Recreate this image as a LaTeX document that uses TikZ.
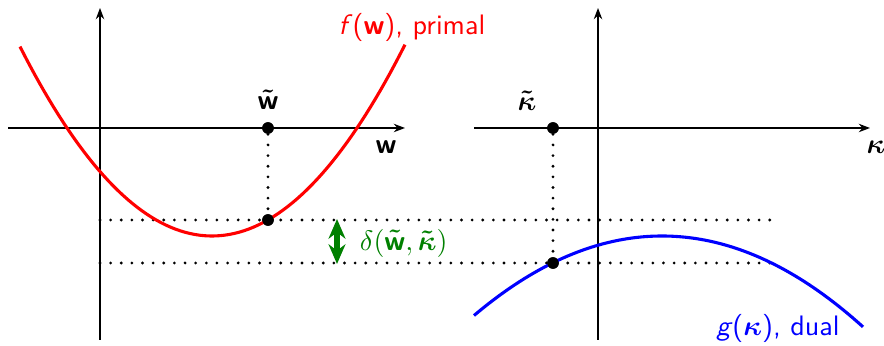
\documentclass[tikz,border=0pt]{standalone}
\usepackage{amsmath,bm}
\usetikzlibrary{arrows.meta}
\definecolor{dgreen}{RGB}{0,128,0}
\begin{document}
\begin{tikzpicture}[x=0.0125cm,y=-0.0125cm,font=\sffamily,
  axis/.style={line width=0.5pt,-{Stealth[length=4pt,width=3pt]}},
  dotline/.style={line width=1.1pt,line cap=round,dash pattern=on 0pt off 3.78pt},
  pt/.style={circle,fill=black,inner sep=0pt,minimum size=4.1pt},
  curve/.style={line width=1.1pt}]
\useasboundingbox (0,0) rectangle (884,346);
% axes coordinates
\coordinate (lxs) at (8,128); \coordinate (lxe) at (405,128);
\coordinate (lys) at (100,340); \coordinate (lye) at (100,8);
\coordinate (rxs) at (474,128); \coordinate (rxe) at (870,128);
\coordinate (rys) at (598,340); \coordinate (rye) at (598,8);
\draw[axis] (lxs) -- (lxe);
\draw[axis] (lys) -- (lye);
\draw[axis] (rxs) -- (rxe);
\draw[axis] (rys) -- (rye);
% points
\node[pt] (wt) at (268,128) {};
\node[pt] (fw) at (268,220) {};
\node[pt] (kt) at (553,128) {};
\node[pt] (gk) at (553,263) {};
\coordinate (h1s) at (100,220); \coordinate (h1e) at (775,220);
\coordinate (h2s) at (100,263); \coordinate (h2e) at (775,263);
\draw[dotline] (h1s) -- (h1e);
\draw[dotline] (h2s) -- (h2e);
\draw[dotline] (wt) -- (fw);
\draw[dotline] (kt) -- (gk);
% curves
\draw[red,curve] plot[domain=20:405,samples=80] (\x,{236-51.37*((\x-212)/100)^2});
\draw[blue,curve] plot[domain=474:863,samples=80] (\x,{236+22.5*((\x-662)/100)^2});
\node[pt] at (wt) {};
\node[pt] at (fw) {};
\node[pt] at (kt) {};
\node[pt] at (gk) {};
% gap arrow
\coordinate (ga) at (337,219); \coordinate (gb) at (337,264);
\draw[dgreen,line width=1.8pt,{Stealth[length=7pt,width=6pt]}-{Stealth[length=7pt,width=6pt]}] (ga) -- (gb);
% labels
\node (lwt) at (268,100) {$\bm{\tilde{\textbf{w}}}$};
\node (lw) at (386,147) {\textbf{w}};
\node (lkt) at (527,101) {$\bm{\tilde{\kappa}}$};
\node (lk) at (876,147) {$\bm{\kappa}$};
\node[red] (lf) at (412,27) {\textit{f}(\textbf{w}), primal};
\node[blue] (lg) at (778,328) {\textit{g}($\bm{\kappa}$), dual};
\node[dgreen,anchor=west] (ld) at (350,243) {$\delta(\bm{\tilde{\textbf{w}}},\bm{\tilde{\kappa}})$};
\end{tikzpicture}
\end{document}
